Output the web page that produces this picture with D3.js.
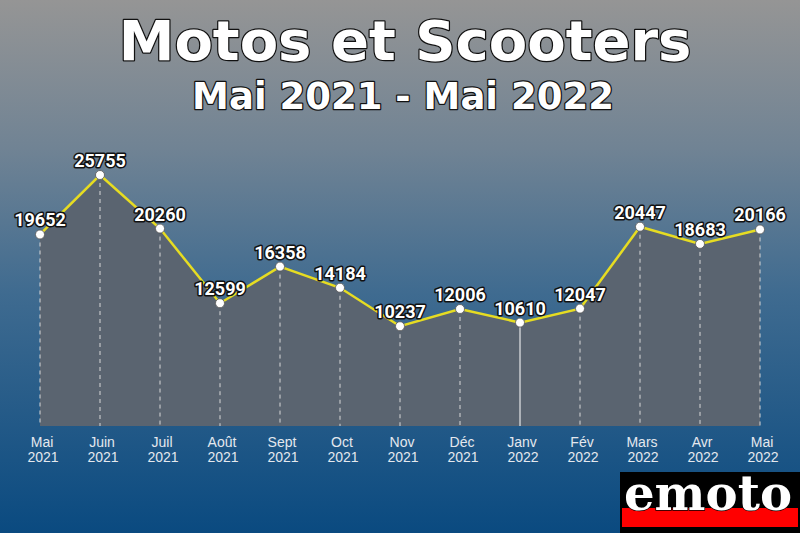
<!DOCTYPE html>
<html><head><meta charset="utf-8">
<script src="https://cdn.jsdelivr.net/npm/d3@7"></script>
<style>html,body{margin:0;padding:0;background:#0b4a80;}svg{display:block;}</style>
</head><body>
<script>
const months = ["Mai", "Juin", "Juil", "Août", "Sept", "Oct", "Nov", "Déc", "Janv", "Fév", "Mars", "Avr", "Mai"];
const years = ["2021", "2021", "2021", "2021", "2021", "2021", "2021", "2021", "2022", "2022", "2022", "2022", "2022"];
const values = [19652, 25755, 20260, 12599, 16358, 14184, 10237, 12006, 10610, 12047, 20447, 18683, 20166];
const title = "Motos et Scooters";
const subtitle = "Mai 2021 - Mai 2022";
const highlightIndex = 8;

const W = 800, H = 533;
const svg = d3.select("body").append("svg").attr("width", W).attr("height", H);
const defs = svg.append("defs");
const grad = defs.append("linearGradient").attr("id", "bg").attr("x1", 0).attr("y1", 0).attr("x2", 0).attr("y2", 1);
[[0, "#959595"], [0.28, "#708394"], [0.55, "#3f6b90"], [1, "#0a4a80"]].forEach(([o, c]) =>
  grad.append("stop").attr("offset", o).attr("stop-color", c));
svg.append("rect").attr("width", W).attr("height", H).attr("fill", "url(#bg)");

const idx = d3.range(values.length);
const x = d3.scalePoint().domain(idx).range([40, 760]);
const y = d3.scaleLinear().domain([0, 25755]).range([426, 175]);

// area
svg.append("path").datum(idx)
  .attr("d", d3.area().x(i => x(i)).y0(y(0)).y1(i => y(values[i])))
  .attr("fill", "#5a6470");

// vertical drop lines
svg.append("g").selectAll("line").data(idx).join("line")
  .attr("x1", i => x(i)).attr("x2", i => x(i))
  .attr("y1", i => y(values[i])).attr("y2", y(0))
  .attr("stroke", i => i === highlightIndex ? "#ffffff" : "#d8d8d8")
  .attr("stroke-width", 1)
  .attr("stroke-dasharray", i => i === highlightIndex ? null : "4,4");

// line
svg.append("path").datum(idx)
  .attr("d", d3.line().x(i => x(i)).y(i => y(values[i])))
  .attr("fill", "none").attr("stroke", "#e6dc22").attr("stroke-width", 2.5);

// points
svg.append("g").selectAll("circle").data(idx).join("circle")
  .attr("cx", i => x(i)).attr("cy", i => y(values[i])).attr("r", 4.5)
  .attr("fill", "#ffffff").attr("stroke", "#555", ).attr("stroke-width", 0.8);

// value labels
svg.append("g").selectAll("text").data(idx).join("text")
  .attr("x", i => x(i)).attr("y", i => y(values[i]) - 8)
  .attr("text-anchor", "middle")
  .attr("font-family", "Roboto, 'DejaVu Sans', sans-serif")
  .attr("font-weight", "bold").attr("font-size", 18)
  .attr("fill", "#fff").attr("stroke", "#111").attr("stroke-width", 3)
  .attr("paint-order", "stroke").attr("stroke-linejoin", "round")
  .text(i => values[i]);

// axis labels
const ax = svg.append("g").attr("font-family", "'Liberation Sans', Arial, sans-serif")
  .attr("font-size", 14).attr("fill", "#e4e8ee").attr("text-anchor", "middle");
ax.selectAll("text.m").data(idx).join("text").attr("class", "m")
  .attr("x", i => x(i) + 2).attr("y", 447).text(i => months[i]);
ax.selectAll("text.yr").data(idx).join("text").attr("class", "yr")
  .attr("x", i => x(i) + 3).attr("y", 462).text(i => years[i]);

// titles
svg.append("text").attr("x", 405).attr("y", 60).attr("text-anchor", "middle")
  .attr("font-family", "'DejaVu Sans', sans-serif").attr("font-weight", "bold").attr("font-size", 56)
  .attr("fill", "#fff").attr("stroke", "#111").attr("stroke-width", 2.5).attr("paint-order", "stroke")
  .attr("stroke-linejoin", "round").text(title);
svg.append("text").attr("x", 403).attr("y", 109).attr("text-anchor", "middle")
  .attr("font-family", "'DejaVu Sans', sans-serif").attr("font-weight", "bold").attr("font-size", 37)
  .attr("fill", "#fff").attr("stroke", "#111").attr("stroke-width", 2.5).attr("paint-order", "stroke")
  .attr("stroke-linejoin", "round").text(subtitle);

// logo
const logo = svg.append("g");
logo.append("rect").attr("x", 620).attr("y", 472).attr("width", 180).attr("height", 61).attr("fill", "#000");
logo.append("rect").attr("x", 622).attr("y", 508).attr("width", 176).attr("height", 19).attr("fill", "#ff0000");
logo.append("text").attr("x", 624).attr("y", 510)
  .attr("font-family", "'DejaVu Serif', serif").attr("font-weight", "bold").attr("font-size", 48)
  .attr("textLength", 168).attr("lengthAdjust", "spacingAndGlyphs")
  .attr("fill", "#fff").attr("stroke", "#000").attr("stroke-width", 1.5).attr("paint-order", "stroke")
  .text("emoto");
</script>
</body></html>
